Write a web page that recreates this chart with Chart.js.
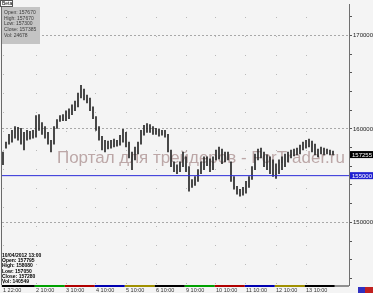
<!DOCTYPE html>
<html>
<head>
<meta charset="utf-8">
<script src="https://cdn.jsdelivr.net/npm/chart.js@4/dist/chart.umd.min.js"></script>
<style>
    html, body { margin: 0; padding: 0; background: #f4f4f4; overflow: hidden; }
    #wrap { width: 373px; height: 293px; position: relative; }
</style>
</head>
<body>
<div id="wrap"><canvas id="priceChart"></canvas></div>
<script>
// 시간봉 고가 / 저가 (111개)
const highs = [
    157530, 158580, 159420, 159840, 160260, 160160, 160050, 159630, 159840, 159740,
    159840, 161420, 161520, 160680, 160260, 159630, 158790, 160260, 161000, 161420,
    161520, 161940, 162150, 162570, 162990, 163830, 164670, 164250, 163620, 163310,
    162360, 161310, 160260, 159210, 158790, 158690, 158790, 158900, 158790, 159320,
    159950, 159630, 158580, 157530, 158060, 158580, 159840, 160370, 160580, 160470,
    160260, 160050, 159950, 159840, 159840, 159420, 157740, 156480, 156170, 156480,
    157530, 157010, 155960, 154590, 154910, 155640, 156480, 157010, 157010, 156800,
    157010, 157740, 158060, 157850, 157530, 157530, 156480, 154910, 153860, 153540,
    153750, 154380, 154910, 155960, 157320, 157850, 157950, 157530, 157220, 157010,
    156690, 156270, 156690, 157010, 157320, 157530, 157740, 157850, 157950, 158270,
    158580, 158790, 158900, 158690, 158370, 157850, 158060, 157950, 157850, 157740,
    157640
];
const lows = [
    156170, 157950, 158370, 158580, 159000, 158790, 158370, 157740, 158790, 158900,
    159000, 159110, 159840, 159420, 159000, 158370, 157530, 158370, 160050, 160790,
    160890, 160890, 161100, 161520, 161940, 162360, 163310, 163100, 162780, 161940,
    161100, 159840, 158790, 157740, 157530, 157850, 157950, 158060, 158160, 158270,
    158580, 158060, 156900, 155640, 156690, 157320, 158370, 159320, 159630, 159630,
    159420, 159420, 159210, 159320, 159110, 157530, 155960, 155430, 155220, 155430,
    155960, 155430, 153330, 153750, 153960, 154380, 155220, 155640, 156060, 155430,
    155640, 156690, 156800, 156270, 156480, 156690, 154380, 153540, 153020, 152810,
    152910, 153120, 153750, 154590, 155640, 156690, 156900, 155960, 155640, 155220,
    154910, 154700, 155220, 155640, 155960, 156480, 156900, 157110, 157220, 157320,
    157740, 157950, 158060, 157530, 157220, 157010, 157320, 157220, 157320, 157220,
    157220
];

// 축 눈금
const tickIdx = [0, 11, 21, 31, 41, 51, 61, 71, 81, 91, 101];
const tickText = ['1 22:00', '2 10:00', '3 10:00', '4 10:00', '5 10:00', '6 10:00',
    '9 10:00', '10 10:00', '11 10:00', '12 10:00', '13 10:00'];
const dayColors = ['#000000', '#00a000', '#b00000', '#0000b0', '#a09000'];

const lastPrice = 157255;
const levelPrice = 155000;
const topInfo = ['Open: 157670', 'High: 157670', 'Low: 157300', 'Close: 157385', 'Vol: 24678'];
const barInfo = ['10/04/2012 13:00', 'Open: 157795', 'High: 158080', 'Low: 157050', 'Close: 157280', 'Vol: 140549'];
const watermark = 'Портал для трейдеров - ForTrader.ru';

const xMin = -1 / 3;
const xMax = xMin + 347 / 3;

// --- 장식 플러그인 ---
const decor = {
    id: 'decor',
    beforeDraw(chart) {
        const ctx = chart.ctx;
        ctx.save();
        ctx.fillStyle = '#f4f4f4';
        ctx.fillRect(0, 0, chart.width, chart.height);
        ctx.restore();
    },
    beforeDatasetsDraw(chart) {
        const ctx = chart.ctx;
        ctx.save();
        let size = 15.5;
        ctx.font = size + 'px "Liberation Sans", Arial, sans-serif';
        size = size * 288 / ctx.measureText(watermark).width;
        ctx.font = size + 'px "Liberation Sans", Arial, sans-serif';
        ctx.fillStyle = 'rgba(150, 115, 115, 0.6)';
        ctx.textBaseline = 'alphabetic';
        ctx.fillText(watermark, 57, 163);
        ctx.restore();
    },
    afterDraw(chart) {
        const ctx = chart.ctx;
        const xs = chart.scales.x;
        const ys = chart.scales.y;
        const area = chart.chartArea;
        ctx.save();

        // 왼쪽 테두리
        ctx.strokeStyle = '#6a6a6a';
        ctx.lineWidth = 1;
        ctx.beginPath();
        ctx.moveTo(1.5, 0);
        ctx.lineTo(1.5, area.bottom);
        ctx.stroke();

        // 날짜별 색 띠
        for (let k = 0; k < tickIdx.length; k++) {
            const a = xs.getPixelForValue(tickIdx[k] - 0.4);
            const b = xs.getPixelForValue((k + 1 < tickIdx.length ? tickIdx[k + 1] : highs.length) - 0.4);
            ctx.fillStyle = dayColors[k % dayColors.length];
            ctx.fillRect(a, area.bottom, b - a, 2);
        }
        const endX = xs.getPixelForValue(highs.length - 0.4);
        ctx.fillStyle = '#909090';
        ctx.fillRect(endX, area.bottom, area.right - endX, 2);

        // 가격 라벨
        const tag = (price, bg) => {
            const y = ys.getPixelForValue(price);
            ctx.fillStyle = bg;
            ctx.fillRect(area.right + 1, y - 3.5, 24, 7);
            ctx.fillStyle = '#ffffff';
            ctx.font = '6px "Liberation Sans", Arial, sans-serif';
            ctx.textBaseline = 'middle';
            ctx.textAlign = 'left';
            ctx.fillText(String(price), area.right + 3, y + 0.5);
        };
        tag(lastPrice, '#000000');
        tag(levelPrice, '#2020d0');

        // 좌상단 Beta 라벨과 정보 상자
        ctx.fillStyle = '#ffffff';
        ctx.fillRect(0, 0, 13, 7);
        ctx.strokeStyle = '#555';
        ctx.strokeRect(0.5, 0.5, 12, 6);
        ctx.fillStyle = '#000';
        ctx.font = '5px "Liberation Sans", Arial, sans-serif';
        ctx.textBaseline = 'middle';
        ctx.fillText('Beta', 2, 4);

        ctx.fillStyle = '#c4c4c4';
        ctx.fillRect(2, 7, 38, 37);
        ctx.fillStyle = '#3a3a3a';
        topInfo.forEach((t, i) => ctx.fillText(t, 4, 12.5 + i * 5.8));

        // 좌하단 봉 정보
        ctx.fillStyle = '#000';
        ctx.font = 'bold 5px "Liberation Sans", Arial, sans-serif';
        barInfo.forEach((t, i) => ctx.fillText(t, 2, 255.5 + i * 5.3));

        // 우하단 작은 상자
        ctx.fillStyle = '#3030c0';
        ctx.fillRect(358, 287, 7, 6);
        ctx.fillStyle = '#c02020';
        ctx.fillRect(365, 287, 8, 6);
        ctx.restore();
    }
};

document.addEventListener('DOMContentLoaded', () => {
    const ctx = document.getElementById('priceChart');
    new Chart(ctx, {
        type: 'bar',
        data: {
            datasets: [{
                type: 'bar',
                data: highs.map((h, i) => ({ x: i, y: [lows[i], h] })),
                backgroundColor: '#262626',
                barThickness: 1,
                order: 2
            }, {
                type: 'line',
                data: [{ x: xMin, y: levelPrice }, { x: xMax, y: levelPrice }],
                borderColor: '#2b2bd8',
                borderWidth: 1,
                pointRadius: 0,
                order: 1
            }]
        },
        options: {
            responsive: true,
            maintainAspectRatio: false,
            animation: false,
            devicePixelRatio: 1,
            layout: { padding: { left: 2, top: 0, right: 0, bottom: 0 } },
            scales: {
                x: {
                    type: 'linear',
                    min: xMin,
                    max: xMax,
                    offset: false,
                    afterBuildTicks: (s) => { s.ticks = tickIdx.map(v => ({ value: v })); },
                    afterFit: (s) => { s.height = 8; },
                    ticks: {
                        callback: (v, i) => tickText[i],
                        font: { family: '"Liberation Sans", Arial, sans-serif', size: 5.5 },
                        color: '#333',
                        align: 'start',
                        padding: 0,
                        maxRotation: 0,
                        autoSkip: false
                    },
                    grid: {
                        offset: false,
                        color: '#b8b8b8',
                        tickColor: '#555',
                        tickLength: 2
                    },
                    border: { display: false, dash: [1, 18], dashOffset: 6.6 }
                },
                y: {
                    position: 'right',
                    min: 143300,
                    max: 173300,
                    afterBuildTicks: (s) => {
                        const t = [];
                        for (let v = 144000; v <= 172000; v += 2000) t.push({ value: v });
                        s.ticks = t;
                    },
                    afterFit: (s) => { s.width = 24; },
                    ticks: {
                        callback: (v) => (v % 10000 === 0 ? String(v) : ''),
                        font: { family: '"Liberation Sans", Arial, sans-serif', size: 6 },
                        color: '#222',
                        padding: 1
                    },
                    grid: {
                        color: (c) => (c.tick && c.tick.value % 10000 === 0 ? '#a8a8a8' : 'rgba(0,0,0,0)'),
                        tickColor: '#555',
                        tickLength: 3
                    },
                    border: { display: true, color: '#707070', width: 1, dash: [2, 2] }
                }
            },
            plugins: {
                legend: { display: false },
                tooltip: { enabled: false }
            }
        },
        plugins: [decor]
    });
});
</script>
</body>
</html>
